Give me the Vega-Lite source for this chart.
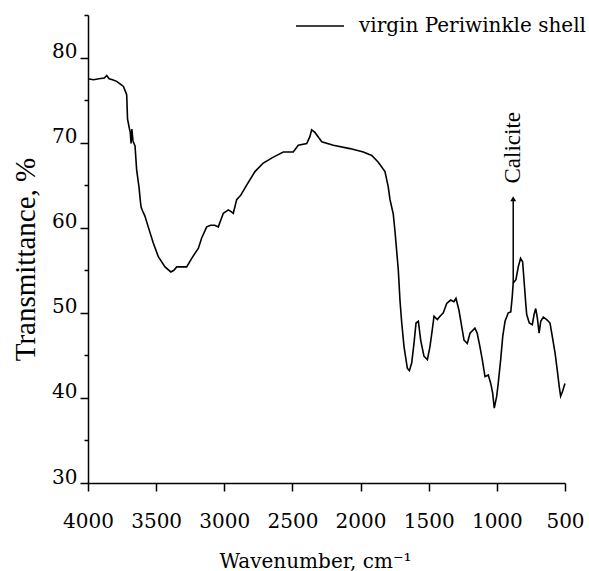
{
  "$schema": "https://vega.github.io/schema/vega-lite/v6.json",
  "width": 477,
  "height": 468,
  "autosize": {"type": "none"},
  "padding": {"left": 88, "top": 15, "right": 24, "bottom": 88},
  "background": "white",
  "config": {
    "view": {"stroke": null},
    "axis": {
      "domainColor": "black",
      "domainWidth": 1.5,
      "tickColor": "black",
      "tickWidth": 1.5,
      "grid": false,
      "labelColor": "black",
      "titleColor": "black",
      "labelFont": "DejaVu Serif",
      "labelFontSize": 20,
      "labelFontWeight": "normal",
      "titleFontWeight": "normal"
    }
  },
  "layer": [
    {
      "data": {
        "values": [
          {"wn": 4000, "t": 77.5}, {"wn": 3960, "t": 77.4}, {"wn": 3920, "t": 77.5}, {"wn": 3880, "t": 77.6},
          {"wn": 3863, "t": 77.9}, {"wn": 3845, "t": 77.5}, {"wn": 3820, "t": 77.4}, {"wn": 3790, "t": 77.2},
          {"wn": 3765, "t": 76.9}, {"wn": 3740, "t": 76.6}, {"wn": 3725, "t": 76.0}, {"wn": 3716, "t": 75.6},
          {"wn": 3710, "t": 72.8}, {"wn": 3698, "t": 71.8}, {"wn": 3690, "t": 71.2}, {"wn": 3684, "t": 69.9},
          {"wn": 3678, "t": 71.6}, {"wn": 3670, "t": 70.2}, {"wn": 3655, "t": 69.6}, {"wn": 3643, "t": 66.8},
          {"wn": 3626, "t": 64.8}, {"wn": 3615, "t": 63.0}, {"wn": 3610, "t": 62.4}, {"wn": 3600, "t": 62.0},
          {"wn": 3583, "t": 61.4}, {"wn": 3558, "t": 60.1}, {"wn": 3521, "t": 58.2}, {"wn": 3484, "t": 56.6},
          {"wn": 3435, "t": 55.4}, {"wn": 3392, "t": 54.8}, {"wn": 3370, "t": 55.0}, {"wn": 3349, "t": 55.4},
          {"wn": 3276, "t": 55.4}, {"wn": 3239, "t": 56.4}, {"wn": 3190, "t": 57.6}, {"wn": 3166, "t": 58.8},
          {"wn": 3129, "t": 60.1}, {"wn": 3100, "t": 60.3}, {"wn": 3070, "t": 60.3}, {"wn": 3044, "t": 60.1},
          {"wn": 3007, "t": 61.7}, {"wn": 2970, "t": 62.1}, {"wn": 2950, "t": 61.9}, {"wn": 2934, "t": 61.7},
          {"wn": 2909, "t": 63.3}, {"wn": 2880, "t": 63.8}, {"wn": 2836, "t": 65.0}, {"wn": 2775, "t": 66.6},
          {"wn": 2714, "t": 67.6}, {"wn": 2640, "t": 68.3}, {"wn": 2567, "t": 68.9}, {"wn": 2494, "t": 68.9},
          {"wn": 2457, "t": 69.7}, {"wn": 2395, "t": 69.9}, {"wn": 2372, "t": 70.7}, {"wn": 2359, "t": 71.5},
          {"wn": 2335, "t": 71.2}, {"wn": 2285, "t": 70.1}, {"wn": 2200, "t": 69.7}, {"wn": 2078, "t": 69.3},
          {"wn": 1980, "t": 68.9}, {"wn": 1918, "t": 68.5}, {"wn": 1870, "t": 67.7}, {"wn": 1821, "t": 66.6},
          {"wn": 1797, "t": 64.8}, {"wn": 1784, "t": 63.3}, {"wn": 1760, "t": 61.6}, {"wn": 1747, "t": 59.5},
          {"wn": 1723, "t": 55.0}, {"wn": 1711, "t": 51.5}, {"wn": 1698, "t": 48.8}, {"wn": 1681, "t": 46.0},
          {"wn": 1657, "t": 43.5}, {"wn": 1642, "t": 43.2}, {"wn": 1625, "t": 44.1}, {"wn": 1608, "t": 46.4},
          {"wn": 1593, "t": 48.8}, {"wn": 1576, "t": 49.0}, {"wn": 1559, "t": 46.8}, {"wn": 1535, "t": 44.9},
          {"wn": 1510, "t": 44.5}, {"wn": 1491, "t": 46.0}, {"wn": 1474, "t": 48.0}, {"wn": 1461, "t": 49.6},
          {"wn": 1437, "t": 49.2}, {"wn": 1417, "t": 49.6}, {"wn": 1393, "t": 50.0}, {"wn": 1368, "t": 51.1},
          {"wn": 1339, "t": 51.5}, {"wn": 1315, "t": 51.3}, {"wn": 1300, "t": 51.7}, {"wn": 1278, "t": 50.3},
          {"wn": 1258, "t": 48.4}, {"wn": 1241, "t": 46.8}, {"wn": 1217, "t": 46.4}, {"wn": 1197, "t": 47.6},
          {"wn": 1161, "t": 48.2}, {"wn": 1144, "t": 47.6}, {"wn": 1124, "t": 46.0}, {"wn": 1107, "t": 44.5},
          {"wn": 1087, "t": 42.5}, {"wn": 1063, "t": 42.7}, {"wn": 1045, "t": 41.7}, {"wn": 1031, "t": 40.6},
          {"wn": 1019, "t": 38.8}, {"wn": 1001, "t": 40.2}, {"wn": 990, "t": 41.7}, {"wn": 972, "t": 44.5},
          {"wn": 957, "t": 47.2}, {"wn": 940, "t": 49.0}, {"wn": 916, "t": 50.0}, {"wn": 898, "t": 50.1},
          {"wn": 887, "t": 51.9}, {"wn": 880, "t": 53.5}, {"wn": 860, "t": 53.9}, {"wn": 843, "t": 55.4},
          {"wn": 826, "t": 56.4}, {"wn": 811, "t": 56.0}, {"wn": 801, "t": 53.9}, {"wn": 788, "t": 51.1},
          {"wn": 781, "t": 49.8}, {"wn": 762, "t": 48.8}, {"wn": 740, "t": 48.6}, {"wn": 727, "t": 49.8},
          {"wn": 715, "t": 50.5}, {"wn": 703, "t": 49.4}, {"wn": 690, "t": 47.6}, {"wn": 678, "t": 49.0},
          {"wn": 659, "t": 49.5}, {"wn": 634, "t": 49.2}, {"wn": 610, "t": 48.8}, {"wn": 593, "t": 47.2},
          {"wn": 573, "t": 45.3}, {"wn": 557, "t": 43.3}, {"wn": 542, "t": 41.3}, {"wn": 532, "t": 40.2},
          {"wn": 517, "t": 40.8}, {"wn": 508, "t": 41.3}, {"wn": 500, "t": 41.7}
        ]
      },
      "transform": [{"calculate": "'virgin Periwinkle shell'", "as": "series"}],
      "mark": {"type": "line", "strokeWidth": 1.6, "interpolate": "linear"},
      "encoding": {
        "x": {
          "field": "wn", "type": "quantitative",
          "scale": {"domain": [500, 4000], "reverse": true, "nice": false, "zero": false},
          "axis": {
            "values": [500, 750, 1000, 1250, 1500, 1750, 2000, 2250, 2500, 2750, 3000, 3250, 3500, 3750, 4000],
            "format": "d",
            "labelExpr": "datum.value % 500 === 0 ? datum.label : ''",
            "tickSize": {"condition": {"test": "datum.value % 500 === 0", "value": 8}, "value": 5},
            "labelPadding": 20,
            "labelBaseline": "top",
            "labelOverlap": false,
            "labelFlush": false,
            "title": "Wavenumber, cm⁻¹",
            "titleFont": "DejaVu Serif",
            "titleFontSize": 20,
            "titleX": 227,
            "titleY": 84,
            "titleAlign": "center",
            "titleBaseline": "alphabetic"
          }
        },
        "y": {
          "field": "t", "type": "quantitative",
          "scale": {"domain": [30, 85], "nice": false, "zero": false},
          "axis": {
            "values": [30, 35, 40, 45, 50, 55, 60, 65, 70, 75, 80, 85],
            "labelExpr": "datum.value % 10 === 0 ? datum.label : ''",
            "tickSize": {"condition": {"test": "datum.value % 10 === 0", "value": 8}, "value": 4},
            "labelPadding": 3,
            "labelBaseline": "alphabetic",
            "labelOverlap": false,
            "labelFlush": false,
            "title": "Transmittance, %",
            "titleFont": "Liberation Serif",
            "titleFontSize": 29,
            "titleAngle": 270,
            "titleX": -54,
            "titleY": 244,
            "titleAlign": "center",
            "titleBaseline": "alphabetic"
          }
        },
        "color": {
          "field": "series", "type": "nominal",
          "scale": {"range": ["black"]},
          "legend": {
            "title": null,
            "orient": "none",
            "legendX": 207,
            "legendY": -14,
            "padding": 0,
            "symbolType": "stroke",
            "symbolSize": 2304,
            "symbolStrokeWidth": 1.5,
            "symbolStrokeColor": "black",
            "labelFont": "DejaVu Serif",
            "labelFontSize": 20,
            "labelColor": "black",
            "labelOffset": 14,
            "labelLimit": 400
          }
        }
      }
    },
    {
      "data": {"values": [{"wn": 880, "t": 53.5, "t2": 63.2}]},
      "mark": {"type": "rule", "color": "black", "strokeWidth": 1.5},
      "encoding": {
        "x": {"field": "wn", "type": "quantitative"},
        "y": {"field": "t", "type": "quantitative"},
        "y2": {"field": "t2"}
      }
    },
    {
      "data": {"values": [{"wn": 880, "t": 63.4}]},
      "mark": {"type": "point", "shape": "triangle-up", "filled": true, "color": "black", "size": 35, "opacity": 1},
      "encoding": {
        "x": {"field": "wn", "type": "quantitative"},
        "y": {"field": "t", "type": "quantitative"}
      }
    },
    {
      "data": {"values": [{"wn": 885, "t": 69.4, "label": "Calicite"}]},
      "mark": {"type": "text", "angle": 270, "align": "center", "baseline": "middle", "font": "Liberation Serif", "fontSize": 23, "color": "black"},
      "encoding": {
        "x": {"field": "wn", "type": "quantitative"},
        "y": {"field": "t", "type": "quantitative"},
        "text": {"field": "label"}
      }
    }
  ]
}
